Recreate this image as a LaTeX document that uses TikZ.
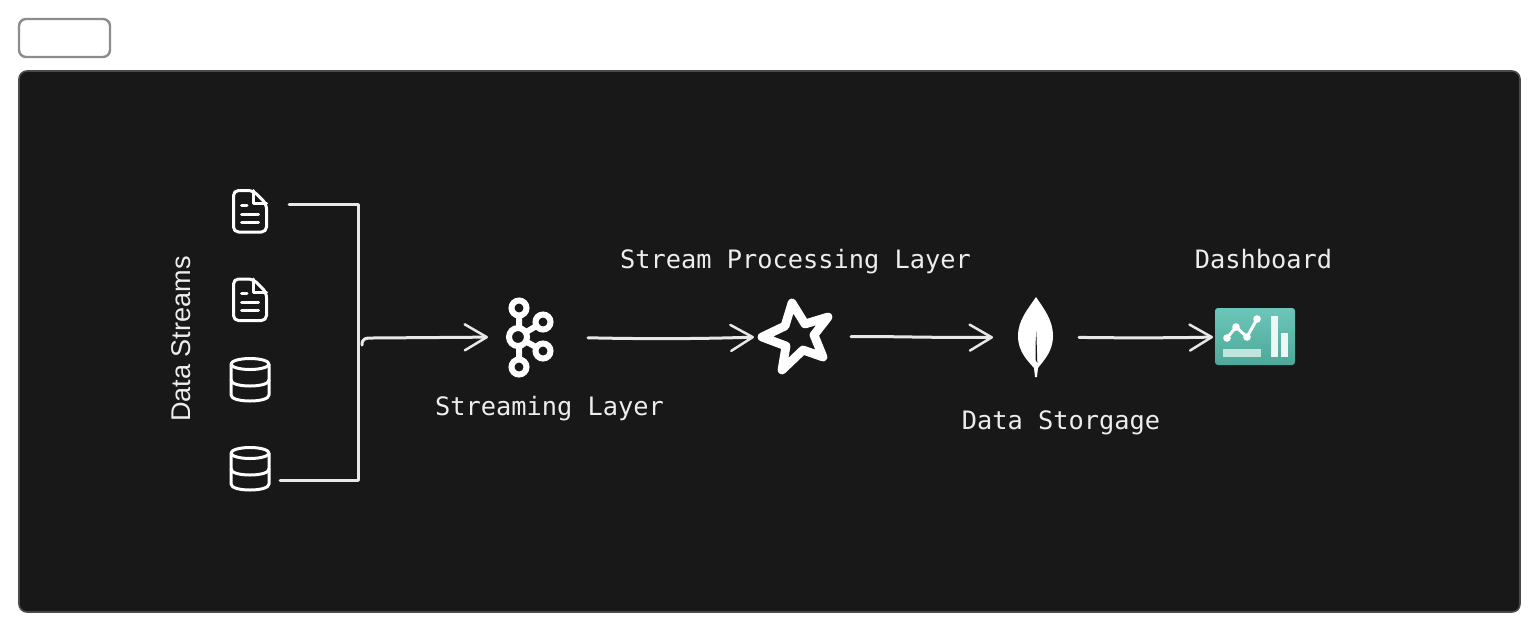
\documentclass[tikz,border=0pt]{standalone}
\usepackage{fontspec}
\setmainfont{Liberation Sans}
\newfontfamily\labelmono{DejaVu Sans Mono}
\usetikzlibrary{arrows.meta}
\definecolor{panelbg}{HTML}{181818}
\definecolor{panelrim}{HTML}{4A4A4A}
\definecolor{boxrim}{HTML}{8C8C8C}
\definecolor{inkline}{HTML}{E8E8E8}
\definecolor{labeltxt}{HTML}{EDEDED}
\definecolor{tealtop}{HTML}{6CC7BA}
\definecolor{tealbot}{HTML}{4DA899}
\definecolor{tealbar}{HTML}{BFE5DD}
\definecolor{tealpale}{HTML}{EEF7F5}
\tikzset{
  x=0.5pt,y=-0.5pt,
  iconbox/.style={inner sep=0pt,outer sep=0pt,minimum width=#1},
  flow/.style={draw=inkline,line width=1.5pt,line cap=round,line join=round},
  flowhead/.style={flow,-{Straight Barb[length=11pt,width=13pt,line width=1.25pt,round]}},
  monolabel/.style={anchor=base,text=labeltxt,inner sep=0pt,font=\labelmono\fontsize{12.67}{15}\selectfont},
  iconline/.style={draw=white,line width=1.5pt,line cap=round,line join=round},
}
\newcommand{\docicon}[1]{%
  \begin{scope}[shift={(0,#1)}]
    \draw[iconline,rounded corners=2.5pt] (233.5,190.5) -- (253,190.5) -- (266.5,204) -- (266.5,232) -- (233.5,232) -- cycle;
    \draw[iconline] (253,190.5) -- (253,203.5) -- (266.5,203.5);
    \draw[iconline] (241.5,205) -- (247,205) (241.5,214) -- (258.5,214) (241.5,222) -- (258.5,222);
  \end{scope}}
\newcommand{\dbicon}[1]{%
  \begin{scope}[shift={(0,#1)}]
    \draw[iconline] (250,364) ellipse [x radius=19,y radius=5.5];
    \draw[iconline] (231,364) -- (231,395) .. controls (231,403) and (269,403) .. (269,395) -- (269,364);
    \draw[iconline] (231,380) .. controls (231,388) and (269,388) .. (269,380);
  \end{scope}}
\begin{document}
\begin{tikzpicture}
\useasboundingbox (0,0) rectangle (1540,633);
\fill[white] (0,0) rectangle (1540,633);
\node (namebox) at (64.5,38) [draw=boxrim,line width=1.2pt,rounded corners=3.5pt,minimum width=45.5pt,minimum height=19pt,inner sep=0pt] {};
\node (panel) at (769.5,341.5) [draw=panelrim,fill=panelbg,line width=0.8pt,rounded corners=4pt,minimum width=750.5pt,minimum height=270.5pt,inner sep=0pt] {};

% anchors of the icons
\node (doc1) at (250,211.5) [iconbox=19pt,minimum height=22pt] {};
\node (doc2) at (250,300) [iconbox=19pt,minimum height=22pt] {};
\node (db1) at (250,380) [iconbox=20pt,minimum height=22pt] {};
\node (db2) at (250,469) [iconbox=20pt,minimum height=22pt] {};
\node (kafka) at (530,337) [iconbox=26pt,minimum height=38pt] {};
\node (star) at (795,337) [iconbox=39pt,minimum height=39pt] {};
\node (leaf) at (1036,337) [iconbox=18pt,minimum height=40pt] {};
\node (dash) at (1255,337) [iconbox=40pt,minimum height=28.5pt] {};

\docicon{0}
\docicon{88.5}
\dbicon{0}
\dbicon{89}

% kafka
\begin{scope}[draw=white,line width=3pt]
  \draw (519,315) -- (519,360) (518,337) -- (543,322) (518,337) -- (543,351);
  \foreach \cx/\cy/\rr in {519/308/7.5,519/367/7.5,518/337/9,543/322/7.5,543/351/7.5}{
    \draw[fill=panelbg] (\cx,\cy) circle [radius=\rr];
  }
\end{scope}

% star
\draw[white,line width=4.4pt,line join=round,fill=panelbg]
  (792,303) -- (805,324) -- (828,317) -- (814,335) -- (823,357) -- (803,350) -- (782,370) -- (786,346) -- (762,337) -- (785,326) -- cycle;

% leaf
\fill[white] (1036,297) .. controls (1044,309) and (1053,320) .. (1053,336)
  .. controls (1053,352) and (1043,361) .. (1038,368) -- (1037,377) -- (1035,377) -- (1034,368)
  .. controls (1028,361) and (1018,352) .. (1018,336) .. controls (1018,320) and (1028,309) .. (1036,297) -- cycle;
\fill[panelbg] (1036.3,331) -- (1037.3,363) -- (1035.7,360) -- (1035.5,345) -- cycle;

% dashboard
\shade[top color=tealtop,bottom color=tealbot,rounded corners=1.5pt]
  (1215,308) rectangle (1295,365);
\fill[tealbar] (1223,349) rectangle (1261,357);
\fill[tealpale] (1271,316) rectangle (1277.5,357);
\fill[tealpale] (1281,333) rectangle (1288,357);
\draw[white,line width=1.5pt,line join=round] (1227,338) -- (1236,327) -- (1247,337) -- (1257,319);
\foreach \px/\py in {1227/338,1236/327,1247/337,1257/319}{
  \fill[white] (\px,\py) circle [radius=3.8];
}

% connectors
\coordinate (busTop) at (358,204);
\coordinate (busBot) at (358,480);
\coordinate (busMid) at (362,345);
\draw[flow,shorten <=10pt] (doc1.east |- busTop) -- (busTop) -- (busBot);
\draw[flow,shorten <=5pt] (db2.east |- busBot) -- (busBot);
\draw[flowhead,shorten >=8pt] (busMid) .. controls (362,338) and (366,338) .. (372,338) -- (kafka.west |- 0,337);
\draw[flowhead,shorten <=16pt,shorten >=1pt] (kafka.east) .. controls (640,339) and (700,339) .. (star.west);
\draw[flowhead,shorten <=8.5pt,shorten >=12.5pt] (star.east) .. controls (880,336) and (940,338) .. (leaf.west);
\draw[flowhead,shorten <=12.5pt,shorten >=1pt] (leaf.east) .. controls (1120,338) and (1170,338) .. (dash.west);

% labels
\node (lblStreams) at (190,339) [rotate=90,anchor=base,inner sep=0pt,text=labeltxt,font=\fontsize{13.55}{15}\selectfont] {Data Streams};
\node (lblStreaming) at (549.5,415.5) [monolabel] {Streaming Layer};
\node (lblProcessing) at (795.5,268.5) [monolabel] {Stream Processing Layer};
\node (lblStorage) at (1061,429.5) [monolabel] {Data Storgage};
\node (lblDash) at (1263.5,268.5) [monolabel] {Dashboard};
\end{tikzpicture}
\end{document}
